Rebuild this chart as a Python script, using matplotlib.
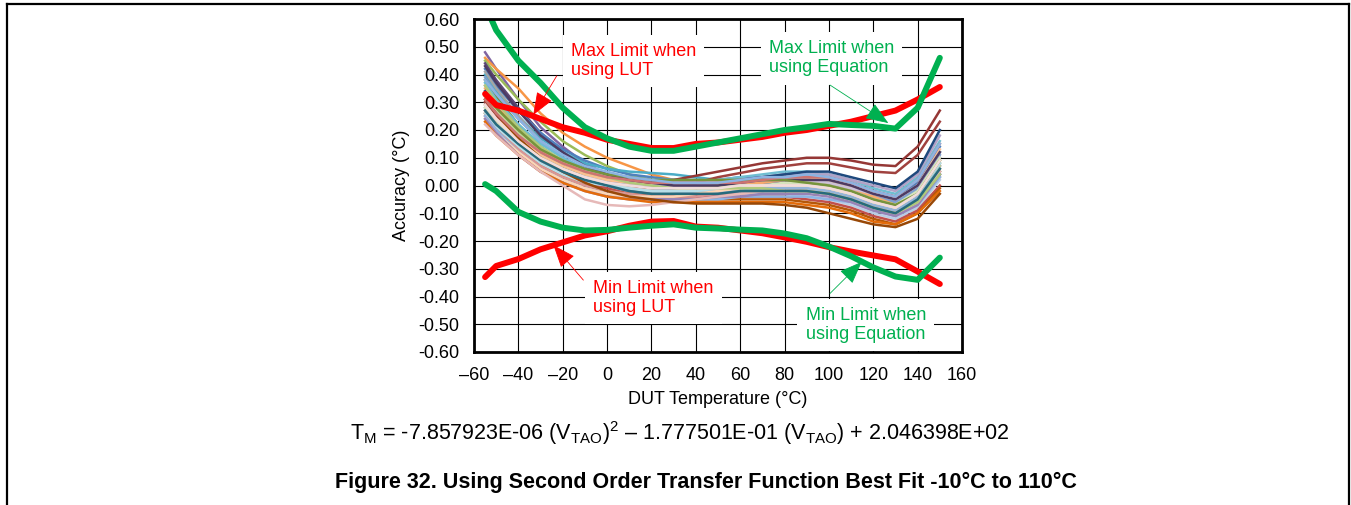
import numpy as np
import matplotlib
matplotlib.use("Agg")
import matplotlib.pyplot as plt
from matplotlib.lines import Line2D
from matplotlib.ticker import FixedLocator, FixedFormatter

plt.rcParams['font.family'] = ['Liberation Sans', 'DejaVu Sans']
plt.rcParams['mathtext.fontset'] = 'custom'
plt.rcParams['mathtext.rm'] = 'Liberation Sans'
plt.rcParams['mathtext.it'] = 'Liberation Sans:italic'
plt.rcParams['mathtext.bf'] = 'Liberation Sans:bold'

# DUT temperatures (°C)
temps = [-55, -50, -40, -30, -20, -10, 0, 10, 20, 30, 40, 50, 60, 70,
         80, 90, 100, 110, 120, 130, 140, 150]

# Accuracy limits (°C)
max_lut = [0.33, 0.29, 0.27, 0.24, 0.21, 0.19, 0.165, 0.15, 0.135, 0.135, 0.15,
           0.155, 0.165, 0.175, 0.19, 0.20, 0.215, 0.23, 0.25, 0.27, 0.31, 0.355]
min_lut = [-0.33, -0.29, -0.265, -0.23, -0.205, -0.18, -0.165, -0.145, -0.13,
           -0.128, -0.148, -0.152, -0.162, -0.172, -0.187, -0.203, -0.222,
           -0.238, -0.252, -0.266, -0.31, -0.355]
max_eq = [0.65, 0.56, 0.45, 0.37, 0.28, 0.21, 0.17, 0.14, 0.125, 0.125, 0.14,
          0.155, 0.17, 0.185, 0.20, 0.21, 0.222, 0.218, 0.215, 0.205, 0.28, 0.46]
min_eq = [0.005, -0.02, -0.095, -0.13, -0.152, -0.162, -0.16, -0.152, -0.145,
          -0.14, -0.152, -0.155, -0.159, -0.162, -0.173, -0.19, -0.22, -0.255,
          -0.295, -0.328, -0.34, -0.26]

# Measured accuracy of each device (°C), one row per DUT
dut_curves = [
    [0.48, 0.42, 0.31, 0.21, 0.14, 0.08, 0.04, 0.02, 0.00, -0.01, -0.01, 0.00, 0.01, 0.02, 0.03, 0.03, 0.02, 0.00, -0.03, -0.06, -0.02, 0.10],
    [0.46, 0.42, 0.35, 0.26, 0.19, 0.14, 0.10, 0.07, 0.04, 0.02, 0.01, 0.01, 0.01, 0.01, 0.01, 0.00, -0.01, -0.03, -0.06, -0.09, -0.05, 0.06],
    [0.45, 0.40, 0.31, 0.23, 0.16, 0.11, 0.07, 0.04, 0.02, 0.01, 0.00, 0.00, 0.01, 0.01, 0.02, 0.02, 0.01, -0.01, -0.04, -0.07, -0.03, 0.08],
    [0.44, 0.38, 0.28, 0.19, 0.12, 0.07, 0.03, 0.01, -0.01, -0.02, -0.02, -0.01, 0.00, 0.01, 0.01, 0.01, 0.00, -0.02, -0.05, -0.08, -0.04, 0.07],
    [0.42, 0.36, 0.27, 0.19, 0.13, 0.09, 0.06, 0.04, 0.03, 0.02, 0.02, 0.02, 0.03, 0.03, 0.04, 0.04, 0.03, 0.01, -0.02, -0.04, 0.01, 0.14],
    [0.40, 0.34, 0.25, 0.17, 0.12, 0.08, 0.06, 0.05, 0.045, 0.04, 0.03, 0.02, 0.02, 0.02, 0.02, 0.02, 0.01, -0.01, -0.04, -0.06, -0.02, 0.12],
    [0.41, 0.35, 0.25, 0.16, 0.10, 0.05, 0.02, 0.00, -0.02, -0.03, -0.03, -0.03, -0.02, -0.02, -0.02, -0.02, -0.03, -0.05, -0.08, -0.11, -0.07, 0.03],
    [0.39, 0.33, 0.24, 0.16, 0.10, 0.06, 0.03, 0.01, -0.01, -0.02, -0.02, -0.01, 0.00, 0.01, 0.02, 0.02, 0.01, -0.01, -0.04, -0.06, -0.01, 0.11],
    [0.38, 0.32, 0.22, 0.14, 0.08, 0.04, 0.01, -0.01, -0.02, -0.03, -0.03, -0.02, -0.01, 0.00, 0.00, 0.00, -0.01, -0.03, -0.06, -0.09, -0.05, 0.05],
    [0.37, 0.31, 0.22, 0.15, 0.10, 0.06, 0.04, 0.03, 0.02, 0.02, 0.02, 0.02, 0.03, 0.04, 0.05, 0.05, 0.04, 0.02, -0.01, -0.03, 0.03, 0.16],
    [0.36, 0.30, 0.21, 0.13, 0.08, 0.04, 0.01, 0.00, -0.01, -0.01, 0.00, 0.01, 0.02, 0.03, 0.04, 0.04, 0.04, 0.02, 0.00, -0.02, 0.04, 0.18],
    [0.35, 0.29, 0.20, 0.13, 0.08, 0.05, 0.02, 0.01, 0.00, 0.00, 0.00, 0.00, 0.01, 0.01, 0.02, 0.02, 0.01, -0.01, -0.04, -0.07, -0.03, 0.09],
    [0.34, 0.28, 0.19, 0.12, 0.07, 0.03, 0.00, -0.02, -0.03, -0.04, -0.04, -0.03, -0.02, -0.02, -0.01, -0.02, -0.03, -0.05, -0.08, -0.10, -0.06, 0.04],
    [0.33, 0.27, 0.18, 0.11, 0.06, 0.03, 0.01, 0.00, -0.01, -0.01, 0.00, 0.01, 0.02, 0.03, 0.04, 0.05, 0.05, 0.03, 0.01, -0.01, 0.05, 0.20],
    [0.32, 0.27, 0.19, 0.12, 0.08, 0.05, 0.03, 0.02, 0.01, 0.00, 0.00, 0.00, 0.00, 0.00, 0.00, 0.00, -0.01, -0.03, -0.06, -0.08, -0.04, 0.07],
    [0.31, 0.26, 0.17, 0.10, 0.05, 0.02, 0.00, -0.01, -0.02, -0.02, -0.02, -0.02, -0.01, -0.01, -0.01, -0.01, -0.02, -0.04, -0.07, -0.09, -0.05, 0.06],
    [0.30, 0.25, 0.17, 0.10, 0.05, 0.02, 0.00, 0.00, 0.01, 0.02, 0.035, 0.05, 0.065, 0.08, 0.09, 0.10, 0.10, 0.09, 0.075, 0.07, 0.14, 0.27],
    [0.30, 0.25, 0.16, 0.09, 0.05, 0.02, 0.00, -0.01, -0.01, 0.00, 0.01, 0.03, 0.045, 0.06, 0.07, 0.08, 0.08, 0.065, 0.05, 0.045, 0.11, 0.23],
    [0.29, 0.24, 0.16, 0.09, 0.05, 0.02, 0.00, -0.01, -0.02, -0.03, -0.03, -0.03, -0.03, -0.03, -0.03, -0.04, -0.05, -0.07, -0.10, -0.12, -0.08, 0.02],
    [0.29, 0.24, 0.17, 0.11, 0.07, 0.04, 0.02, 0.01, 0.00, 0.00, 0.01, 0.01, 0.02, 0.02, 0.03, 0.03, 0.02, 0.00, -0.03, -0.05, 0.00, 0.13],
    [0.28, 0.23, 0.15, 0.09, 0.05, 0.02, 0.00, -0.02, -0.03, -0.03, -0.03, -0.02, -0.02, -0.01, -0.01, -0.01, -0.02, -0.04, -0.07, -0.09, -0.04, 0.08],
    [0.28, 0.23, 0.16, 0.10, 0.06, 0.03, 0.01, -0.01, -0.02, -0.02, -0.01, -0.01, 0.00, 0.00, 0.01, 0.01, 0.00, -0.02, -0.05, -0.07, -0.02, 0.10],
    [0.27, 0.22, 0.14, 0.08, 0.04, 0.01, -0.01, -0.03, -0.04, -0.04, -0.04, -0.04, -0.04, -0.04, -0.04, -0.05, -0.06, -0.08, -0.11, -0.13, -0.09, 0.00],
    [0.27, 0.22, 0.15, 0.09, 0.05, 0.03, 0.01, 0.00, 0.00, 0.00, 0.00, 0.01, 0.01, 0.02, 0.02, 0.02, 0.01, -0.01, -0.03, -0.05, 0.00, 0.12],
    [0.26, 0.21, 0.13, 0.07, 0.03, 0.00, -0.02, -0.03, -0.04, -0.05, -0.05, -0.05, -0.05, -0.05, -0.05, -0.06, -0.07, -0.09, -0.12, -0.14, -0.10, -0.01],
    [0.26, 0.21, 0.14, 0.08, 0.04, 0.01, 0.00, -0.01, -0.02, -0.02, -0.02, -0.01, -0.01, 0.00, 0.00, 0.00, -0.01, -0.03, -0.06, -0.08, -0.03, 0.08],
    [0.25, 0.20, 0.13, 0.07, 0.03, 0.00, -0.02, -0.03, -0.04, -0.04, -0.04, -0.03, -0.03, -0.02, -0.02, -0.02, -0.03, -0.05, -0.08, -0.10, -0.06, 0.05],
    [0.25, 0.20, 0.12, 0.06, 0.02, -0.01, -0.03, -0.04, -0.05, -0.05, -0.05, -0.05, -0.04, -0.04, -0.04, -0.04, -0.05, -0.06, -0.09, -0.11, -0.07, 0.03],
    [0.24, 0.19, 0.12, 0.06, 0.02, -0.01, -0.03, -0.04, -0.04, -0.04, -0.03, -0.02, -0.01, 0.00, 0.00, 0.00, -0.01, -0.03, -0.06, -0.08, -0.03, 0.09],
    [0.24, 0.19, 0.11, 0.05, 0.01, -0.02, -0.04, -0.05, -0.05, -0.05, -0.05, -0.04, -0.04, -0.03, -0.03, -0.03, -0.04, -0.06, -0.09, -0.11, -0.07, 0.04],
    [0.23, 0.18, 0.11, 0.05, 0.01, -0.02, -0.04, -0.05, -0.06, -0.06, -0.06, -0.06, -0.06, -0.06, -0.06, -0.07, -0.08, -0.10, -0.13, -0.14, -0.10, -0.02],
    [0.22, 0.18, 0.11, 0.05, 0.00, -0.05, -0.07, -0.075, -0.07, -0.06, -0.05, -0.04, -0.03, -0.02, -0.02, -0.02, -0.03, -0.05, -0.08, -0.10, -0.06, 0.05],
    [0.31, 0.26, 0.17, 0.10, 0.05, 0.01, -0.02, -0.04, -0.05, -0.06, -0.065, -0.065, -0.065, -0.065, -0.07, -0.08, -0.10, -0.12, -0.14, -0.15, -0.12, -0.03],
    [0.36, 0.30, 0.21, 0.14, 0.09, 0.05, 0.03, 0.01, 0.00, -0.01, -0.01, -0.01, -0.01, -0.01, -0.02, -0.02, -0.03, -0.05, -0.08, -0.10, -0.06, 0.04],
    [0.43, 0.37, 0.27, 0.18, 0.12, 0.07, 0.04, 0.02, 0.01, 0.00, 0.00, 0.00, 0.01, 0.02, 0.02, 0.02, 0.02, 0.00, -0.03, -0.05, 0.00, 0.12],
    [0.33, 0.28, 0.20, 0.13, 0.09, 0.06, 0.04, 0.03, 0.02, 0.02, 0.02, 0.02, 0.02, 0.02, 0.02, 0.01, 0.00, -0.02, -0.05, -0.07, -0.03, 0.09],
    [0.31, 0.26, 0.18, 0.12, 0.08, 0.05, 0.03, 0.02, 0.01, 0.01, 0.01, 0.01, 0.01, 0.02, 0.03, 0.03, 0.03, 0.01, -0.02, -0.04, 0.02, 0.15],
    [0.27, 0.22, 0.15, 0.09, 0.05, 0.02, 0.00, -0.02, -0.03, -0.03, -0.03, -0.03, -0.02, -0.02, -0.02, -0.02, -0.03, -0.05, -0.08, -0.10, -0.05, 0.06],
    [0.38, 0.33, 0.24, 0.16, 0.11, 0.07, 0.05, 0.03, 0.02, 0.01, 0.01, 0.01, 0.02, 0.03, 0.03, 0.04, 0.03, 0.01, -0.02, -0.04, 0.02, 0.15],
    [0.29, 0.24, 0.16, 0.10, 0.06, 0.03, 0.01, 0.00, -0.01, -0.01, -0.01, -0.01, 0.00, 0.00, 0.00, 0.00, -0.01, -0.03, -0.06, -0.08, -0.03, 0.09],
]

dut_colors = [
    '#8064A2', '#F79646', '#9BBB59', '#5C4776', '#4F81BD', '#4BACC6',
    '#A5A5A5', '#7F9FCF', '#71893F', '#6FBDD1', '#B2A2C7', '#F9AB6B',
    '#2C4D75', '#1F497D', '#C3D69B', '#93CDDD', '#953735', '#A0413E',
    '#B9CDE5', '#FAC090', '#95B3D7', '#D7E4BD', '#C0504D', '#CCC1DA',
    '#B65708', '#B7DEE8', '#D99694', '#8EB4E3', '#FCD5B5', '#9983B5',
    '#E46C0A', '#E6B9B8', '#984807', '#AFC97A', '#4D3B62', '#77933C',
    '#CD7371', '#276A7C', '#8DB3E2', '#F2DCDB',
]

x_ticks = [-60, -40, -20, 0, 20, 40, 60, 80, 100, 120, 140, 160]
x_tick_labels = ['\u201360', '\u201340', '\u201320', '0', '20', '40', '60', '80',
                 '100', '120', '140', '160']
y_ticks = [-0.6, -0.5, -0.4, -0.3, -0.2, -0.1, 0.0, 0.1, 0.2, 0.3, 0.4, 0.5, 0.6]
y_tick_labels = ['-0.60', '-0.50', '-0.40', '-0.30', '-0.20', '-0.10', '0.00',
                 '0.10', '0.20', '0.30', '0.40', '0.50', '0.60']

RED = '#FF0000'
GREEN = '#00B050'

W, H = 1351, 505
fig = plt.figure(figsize=(W / 100, H / 100), dpi=100)
ax = fig.add_axes([474 / W, 1 - 352 / H, 488 / W, 333 / H])

# Page frame
frame_kw = dict(color='black', lw=1.6, transform=fig.transFigure)
fig.add_artist(Line2D([6.5 / W, 1349 / W], [1 - 4 / H, 1 - 4 / H], **frame_kw))
fig.add_artist(Line2D([6.5 / W, 6.5 / W], [0, 1 - 4 / H], **frame_kw))
fig.add_artist(Line2D([1349 / W, 1349 / W], [0, 1 - 4 / H], **frame_kw))

# Individual device curves
for vals, col in zip(dut_curves, dut_colors):
    ax.plot(temps, vals, color=col, lw=1.8, zorder=2, solid_joinstyle='round')

# Limit curves
limit_kw = dict(lw=4.3, solid_capstyle='round', solid_joinstyle='round', zorder=3)
ax.plot(temps, max_lut, color=RED, **limit_kw)
ax.plot(temps, min_lut, color=RED, **limit_kw)
ax.plot(temps, max_eq, color=GREEN, **limit_kw)
ax.plot(temps, min_eq, color=GREEN, **limit_kw)

ax.set_xlim(-60, 160)
ax.set_ylim(-0.6, 0.6)
ax.xaxis.set_major_locator(FixedLocator(x_ticks))
ax.xaxis.set_major_formatter(FixedFormatter(x_tick_labels))
ax.yaxis.set_major_locator(FixedLocator(y_ticks))
ax.yaxis.set_major_formatter(FixedFormatter(y_tick_labels))
ax.tick_params(axis='both', length=0, labelsize=13, pad=10.5, colors='black')
ax.grid(True, color='black', lw=0.8)
ax.set_axisbelow(True)
for sp in ax.spines.values():
    sp.set_linewidth(2.0)
    sp.set_color('black')
    sp.set_zorder(5)

ax.set_xlabel('DUT Temperature (°C)', fontsize=13)
ax.xaxis.set_label_coords(0.5, -0.118)
ax.set_ylabel('Accuracy (°C)', fontsize=13)
ax.yaxis.set_label_coords(-0.131, 0.5)

# Callouts
box_kw = dict(boxstyle='square,pad=0.45', facecolor='white', edgecolor='none')
arrow_kw = dict(arrowstyle='-|>,head_length=0.9,head_width=0.35', lw=0.6,
                mutation_scale=16, shrinkA=0, shrinkB=0)

ax.text(-16.3, 0.449, 'Max Limit when\nusing LUT', color=RED, fontsize=13,
        ha='left', va='center', linespacing=1.15, bbox=box_kw, zorder=1.5)
ax.annotate('', xy=(-33.3, 0.254), xytext=(-22.7, 0.395),
            arrowprops=dict(color=RED, **arrow_kw), zorder=4)

ax.text(73.0, 0.458, 'Max Limit when\nusing Equation', color=GREEN, fontsize=13,
        ha='left', va='center', linespacing=1.15, bbox=box_kw, zorder=1.5)
ax.annotate('', xy=(126.8, 0.225), xytext=(100.5, 0.362),
            arrowprops=dict(color=GREEN, **arrow_kw), zorder=4)

ax.text(-6.3, -0.406, 'Min Limit when\nusing LUT', color=RED, fontsize=13,
        ha='left', va='center', linespacing=1.15, bbox=box_kw, zorder=1.5)
ax.annotate('', xy=(-24.2, -0.215), xytext=(-10.7, -0.341),
            arrowprops=dict(color=RED, **arrow_kw), zorder=4)

ax.text(89.5, -0.504, 'Min Limit when\nusing Equation', color=GREEN, fontsize=13,
        ha='left', va='center', linespacing=1.15, bbox=box_kw, zorder=1.5)
ax.annotate('', xy=(114.8, -0.275), xytext=(100.5, -0.389),
            arrowprops=dict(color=GREEN, **arrow_kw), zorder=4)

# Transfer function and caption
fig.text(679.5 / W, 1 - 440 / H,
         r'T$_\mathregular{M}$ = -7.857923E-06 (V$_\mathregular{TAO}$)$^\mathregular{2}$'
         r' – 1.777501E-01 (V$_\mathregular{TAO}$) + 2.046398E+02',
         fontsize=15.5, ha='center', va='baseline')
fig.text(705.5 / W, 1 - 488 / H,
         'Figure 32. Using Second Order Transfer Function Best Fit -10°C to 110°C',
         fontsize=15.5, fontweight='bold', ha='center', va='baseline')

fig.savefig('out.png', dpi=100, facecolor='white')
